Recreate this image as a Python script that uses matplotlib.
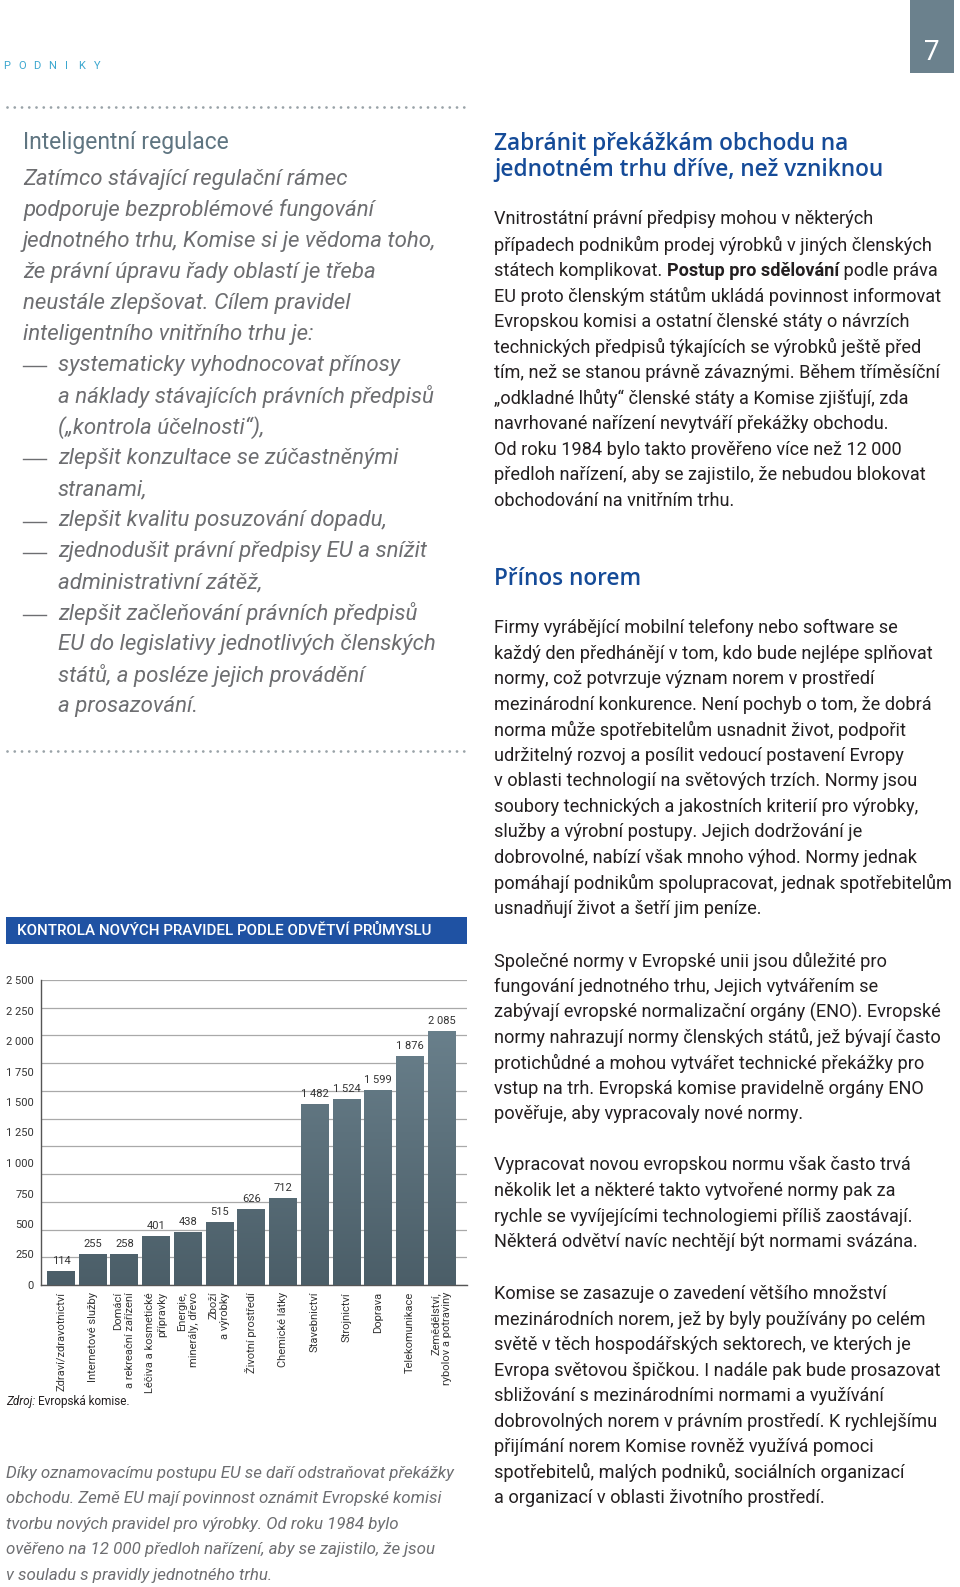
import numpy as np
import matplotlib
matplotlib.use("Agg")
import matplotlib.pyplot as plt
from matplotlib.colors import LinearSegmentedColormap
from matplotlib.patches import Rectangle
from matplotlib.lines import Line2D

W, H = 960, 1587

# chart data
sectors = ["Zdraví/zdravotnictví", "Internetové služby", "Domácí\na rekreační zařízení",
           "Léčiva a kosmetické\npřípravky", "Energie,\nminerály, dřevo", "Zboží\na výrobky",
           "Životní prostředí", "Chemické látky", "Stavebnictví", "Strojnictví", "Doprava",
           "Telekomunikace", "Zemědělství,\nrybolov a potraviny"]
checks = [114, 255, 258, 401, 438, 515, 626, 712, 1482, 1524, 1599, 1876, 2085]
yticks = [0, 250, 500, 750, 1000, 1250, 1500, 1750, 2000, 2250, 2500]
ytick_labels = ["0", "250", "500", "750", "1 000", "1 250", "1 500", "1 750", "2 000", "2 250", "2 500"]
value_labels = ["114", "255", "258", "401", "438", "515", "626", "712", "1 482", "1 524", "1 599", "1 876", "2 085"]

chart_title = "KONTROLA NOVÝCH PRAVIDEL PODLE ODVĚTVÍ PRŮMYSLU"

left_heading = "Inteligentní regulace"
left_italic = [
    (0, "Zatímco stávající regulační rámec"),
    (0, "podporuje bezproblémové fungování"),
    (0, "jednotného trhu, Komise si je vědoma toho,"),
    (0, "že právní úpravu řady oblastí je třeba"),
    (0, "neustále zlepšovat. Cílem pravidel"),
    (0, "inteligentního vnitřního trhu je:"),
    (2, "systematicky vyhodnocovat přínosy"),
    (1, "a náklady stávajících právních předpisů"),
    (1, "(„kontrola účelnosti“),"),
    (2, "zlepšit konzultace se zúčastněnými"),
    (1, "stranami,"),
    (2, "zlepšit kvalitu posuzování dopadu,"),
    (2, "zjednodušit právní předpisy EU a snížit"),
    (1, "administrativní zátěž,"),
    (2, "zlepšit začleňování právních předpisů"),
    (1, "EU do legislativy jednotlivých členských"),
    (1, "států, a posléze jejich provádění"),
    (1, "a prosazování."),
]
bottom_italic = [
    "Díky oznamovacímu postupu EU se daří odstraňovat překážky",
    "obchodu. Země EU mají povinnost oznámit Evropské komisi",
    "tvorbu nových pravidel pro výrobky. Od roku 1984 bylo",
    "ověřeno na 12 000 předloh nařízení, aby se zajistilo, že jsou",
    "v souladu s pravidly jednotného trhu.",
]

right_heading1 = ["Zabránit překážkám obchodu na", "jednotném trhu dříve, než vzniknou"]
right_heading2 = ["Přínos norem"]
para1 = [
    "Vnitrostátní právní předpisy mohou v některých",
    "případech podnikům prodej výrobků v jiných členských",
    ["státech komplikovat. ", "*Postup pro sdělování", " podle práva"],
    "EU proto členským státům ukládá povinnost informovat",
    "Evropskou komisi a ostatní členské státy o návrzích",
    "technických předpisů týkajících se výrobků ještě před",
    "tím, než se stanou právně závaznými. Během tříměsíční",
    "„odkladné lhůty“ členské státy a Komise zjišťují, zda",
    "navrhované nařízení nevytváří překážky obchodu.",
    "Od roku 1984 bylo takto prověřeno více než 12 000",
    "předloh nařízení, aby se zajistilo, že nebudou blokovat",
    "obchodování na vnitřním trhu.",
]
para2 = [
    "Firmy vyrábějící mobilní telefony nebo software se",
    "každý den předhánějí v tom, kdo bude nejlépe splňovat",
    "normy, což potvrzuje význam norem v prostředí",
    "mezinárodní konkurence. Není pochyb o tom, že dobrá",
    "norma může spotřebitelům usnadnit život, podpořit",
    "udržitelný rozvoj a posílit vedoucí postavení Evropy",
    "v oblasti technologií na světových trzích. Normy jsou",
    "soubory technických a jakostních kriterií pro výrobky,",
    "služby a výrobní postupy. Jejich dodržování je",
    "dobrovolné, nabízí však mnoho výhod. Normy jednak",
    "pomáhají podnikům spolupracovat, jednak spotřebitelům",
    "usnadňují život a šetří jim peníze.",
]
para3 = [
    "Společné normy v Evropské unii jsou důležité pro",
    "fungování jednotného trhu, Jejich vytvářením se",
    "zabývají evropské normalizační orgány (ENO). Evropské",
    "normy nahrazují normy členských států, jež bývají často",
    "protichůdné a mohou vytvářet technické překážky pro",
    "vstup na trh. Evropská komise pravidelně orgány ENO",
    "pověřuje, aby vypracovaly nové normy.",
]
para4 = [
    "Vypracovat novou evropskou normu však často trvá",
    "několik let a některé takto vytvořené normy pak za",
    "rychle se vyvíjejícími technologiemi příliš zaostávají.",
    "Některá odvětví navíc nechtějí být normami svázána.",
]
para5 = [
    "Komise se zasazuje o zavedení většího množství",
    "mezinárodních norem, jež by byly používány po celém",
    "světě v těch hospodářských sektorech, ve kterých je",
    "Evropa světovou špičkou. I nadále pak bude prosazovat",
    "sbližování s mezinárodními normami a využívání",
    "dobrovolných norem v právním prostředí. K rychlejšímu",
    "přijímání norem Komise rovněž využívá pomoci",
    "spotřebitelů, malých podniků, sociálních organizací",
    "a organizací v oblasti životního prostředí.",
]

BODY_FONT = ["Roboto", "DejaVu Sans"]
HEAD_FONT = ["Open Sans", "DejaVu Sans"]
NARROW_FONT = ["Liberation Sans Narrow", "Roboto", "DejaVu Sans"]
GRAY_TEXT = "#6d6e71"
DARK_TEXT = "#231f20"
HEAD_BLUE = "#154b98"

plt.rcParams["font.family"] = BODY_FONT

fig = plt.figure(figsize=(W / 100, H / 100), dpi=100)
renderer = fig.canvas.get_renderer()


def fx(x):
    return x / W


def fy(y):
    return 1 - y / H


def put(x, y, s, **kw):
    kw.setdefault("va", "center")
    return fig.text(fx(x), fy(y), s, **kw)


def dotted(x0, x1, y):
    fig.add_artist(Line2D([fx(x0), fx(x1)], [fy(y), fy(y)], transform=fig.transFigure,
                          color="#9aa3a8", lw=2.0, linestyle=(0, (0.01, 2.6)),
                          dash_capstyle="round"))


def draw_lines(lines, x, y0, step, **kw):
    for i, line in enumerate(lines):
        y = y0 + i * step
        if isinstance(line, list):
            xx = x
            for seg in line:
                bold = seg.startswith("*")
                t = put(xx, y, seg.lstrip("*"), fontweight="bold" if bold else kw.get("fontweight", "normal"),
                        **{k: v for k, v in kw.items() if k != "fontweight"})
                xx += t.get_window_extent(renderer).width
        else:
            put(x, y, line, **kw)


# header
fig.add_artist(Rectangle((fx(910), fy(73)), fx(954) - fx(910), fy(0) - fy(73),
                         transform=fig.transFigure, color="#6b818d", lw=0))
put(932, 53, "7", color="white", fontsize=20, ha="center")
for i, ch in enumerate("PODNIKY"):
    put(7 + i * 15.0, 66, ch, color="#3ba7cf", fontsize=8, ha="center")
dotted(7, 466, 107)

# left column
put(23, 142, left_heading, color="#5f7581", fontsize=16.5)
for i, (kind, line) in enumerate(left_italic):
    y = 179 + i * 31.05
    xx = 23 if kind == 0 else 58
    if kind == 2:
        fig.add_artist(Line2D([fx(23), fx(46)], [fy(y + 1), fy(y + 1)], transform=fig.transFigure,
                              color=GRAY_TEXT, lw=1.0))
    put(xx, y, line, color=GRAY_TEXT, fontsize=16.0, fontstyle="italic")
dotted(7, 466, 751)

# chart banner
fig.add_artist(Rectangle((fx(6), fy(944)), fx(467) - fx(6), fy(917) - fy(944),
                         transform=fig.transFigure, color="#1f52a3", lw=0))
put(17, 931, chart_title, color="white", fontsize=10.9, fontweight="medium")

# chart
ax = fig.add_axes([fx(41), fy(1285), fx(467) - fx(41), fy(980) - fy(1285)])
xpos = np.arange(len(checks))
bars = ax.bar(xpos, checks, width=0.88, color="#5f7581", zorder=3, lw=0)
cmap = LinearSegmentedColormap.from_list("bars", ["#4b5e68", "#6f8692"])
grad = np.linspace(0, 1, 256).reshape(-1, 1)
for b in bars:
    im = ax.imshow(grad, extent=[b.get_x(), b.get_x() + b.get_width(), 0, 2500], origin="lower",
                   cmap=cmap, aspect="auto", zorder=4)
    im.set_clip_path(b)
for i, v in enumerate(checks):
    ax.text(xpos[i], v + 40, value_labels[i], ha="center", va="bottom", fontsize=8,
            color="#333333", family=NARROW_FONT)
for g in np.linspace(0, 2500, 12):
    ax.axhline(g, color="#a9a9a9", lw=0.9, zorder=1)
ax.set_xlim(-0.63, 12.8)
ax.set_ylim(0, 2500)
ax.set_yticks(yticks)
ax.set_yticklabels(ytick_labels, family=NARROW_FONT, fontsize=8, color="#333333")
ax.set_xticks(xpos)
ax.set_xticklabels(sectors, rotation=90, va="top", ha="center", multialignment="right",
                   family=NARROW_FONT, fontsize=8, color="#333333")
ax.tick_params(length=0, pad=5)
for side in ["top", "right"]:
    ax.spines[side].set_visible(False)
for side in ["left", "bottom"]:
    ax.spines[side].set_color("#555555")
    ax.spines[side].set_linewidth(1.0)
ax.set_facecolor("none")

t = put(6, 1401, "Zdroj:", color=DARK_TEXT, fontsize=8.5, fontstyle="italic")
put(6 + t.get_window_extent(renderer).width + 3, 1401, "Evropská komise.", color=DARK_TEXT, fontsize=8.5)

draw_lines(bottom_italic, 6, 1473, 25.6, color=GRAY_TEXT, fontsize=12.2, fontstyle="italic")

# right column
draw_lines(right_heading1, 494, 144, 26, color=HEAD_BLUE, fontsize=16.3, fontweight="semibold",
           family=HEAD_FONT)
draw_lines(right_heading2, 494, 579, 26, color=HEAD_BLUE, fontsize=16.3, fontweight="semibold",
           family=HEAD_FONT)
body = dict(color=DARK_TEXT, fontsize=13.1)
draw_lines(para1, 494, 219.5, 25.56, **body)
draw_lines(para2, 494, 628, 25.56, **body)
draw_lines(para3, 494, 961, 25.56, **body)
draw_lines(para4, 494, 1165.5, 25.56, **body)
draw_lines(para5, 494, 1294, 25.56, **body)

fig.savefig("out.png", dpi=100)
